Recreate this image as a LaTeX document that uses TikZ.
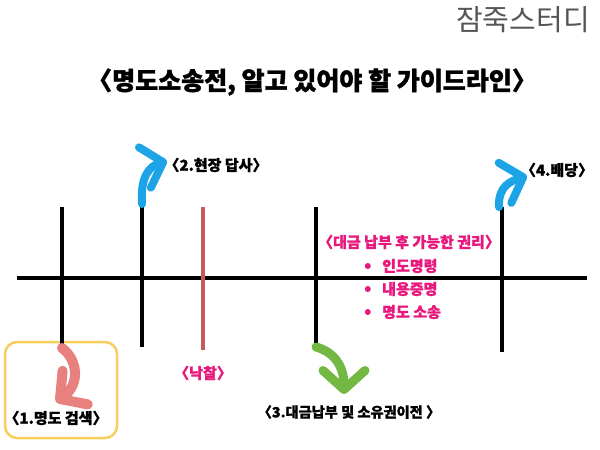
\documentclass[tikz,border=0pt]{standalone}
\usepackage{fontspec}
\setmainfont{Noto Sans CJK KR}[BoldFeatures={FakeBold=1.4}]
\usetikzlibrary{arrows.meta,positioning}
\definecolor{hotpink}{HTML}{E8197D}
\definecolor{skyblue}{HTML}{1DA4E6}
\definecolor{leafgreen}{HTML}{72B843}
\definecolor{salmonpink}{HTML}{E8807E}
\definecolor{bidred}{HTML}{C85A5C}
\definecolor{framegold}{HTML}{F8CE5A}
\definecolor{brandgray}{HTML}{555555}

\begin{document}
\begin{tikzpicture}[
    x=1pt,
    y=-1pt,
    timeline/.style={line width=4pt},
    bend arrow/.style={line width=8pt, line cap=round,
      -{Straight Barb[length=19pt,width=42pt,round]}},
    stage/.style={font=\bfseries\fontsize{15}{17}\selectfont, inner sep=0pt},
    pinktext/.style={stage, text=hotpink},
    dot/.style={circle, fill=hotpink, minimum size=6pt, inner sep=0pt},
  ]
  \useasboundingbox (0,0) rectangle (600,450);
  \node[text=brandgray, font=\fontsize{29}{31}\selectfont] (brand) at (523,20) {잠죽스터디};
  \node[font=\bfseries\fontsize{25}{29}\selectfont] (title) at (312,82) {〈명도소송전, 알고 있어야 할 가이드라인〉};

  % frame round step 1
  \draw[framegold, line width=2.5pt, rounded corners=12pt] (5,342) rectangle (117,438);

  % timeline
  \coordinate (start) at (17,278);
  \coordinate (end) at (587,278);
  \draw[timeline] (start) -- (end);
  \foreach \n/\x/\t/\b in {1/62/207/348, 2/142/204/347, 3/316/207/347, 4/502/207/352} {
    \coordinate (t\n) at (\x,\t);
    \coordinate (b\n) at (\x,\b);
    \draw[timeline] (t\n) -- (b\n);
  }
  \coordinate (tbid) at (203,207);
  \coordinate (bbid) at (203,350);
  \draw[timeline, bidred, line width=3.5pt] (tbid) -- (bbid);

  % labels
  \node[stage] (search) at (56,418) {〈1.명도 검색〉};
  \node[stage] (visit) at (216,165) {〈2.현장 답사〉};
  \node[pinktext] (bid) at (203,373) {〈낙찰〉};
  \node[stage, font=\bfseries\fontsize{14.2}{16}\selectfont] (pay) at (349,412) {〈3.대금납부 및 소유권이전 〉};
  \node[stage] (dividend) at (557,170) {〈4.배당〉};

  % rights after payment
  \node[pinktext] (rights) at (409,242) {〈대금 납부 후 가능한 권리〉};
  \foreach \i/\y/\txt in {1/266/인도명령, 2/289/내용증명, 3/312/명도 소송} {
    \node[pinktext, anchor=west] (r\i) at (382,\y) {\txt};
    \node[dot, left=11pt of r\i] (d\i) {};
  }

  % curved arrows
  \coordinate (tip1) at (56,402);
  \coordinate (tip2) at (167,161);
  \coordinate (tip3) at (344,394);
  \coordinate (tip4) at (527,176);
  \draw[bend arrow, salmonpink, line width=10pt] (b1) .. controls (78,360) and (80,384) .. (tip1);
  \draw[bend arrow, skyblue] (t2) .. controls (140,176) and (150,166) .. (tip2);
  \draw[bend arrow, leafgreen, line width=9pt] (b3) .. controls (334,352) and (344,366) .. (tip3);
  \draw[bend arrow, skyblue] ([xshift=-3pt]t4) .. controls (498,186) and (511,181) .. (tip4);
\end{tikzpicture}
\end{document}
